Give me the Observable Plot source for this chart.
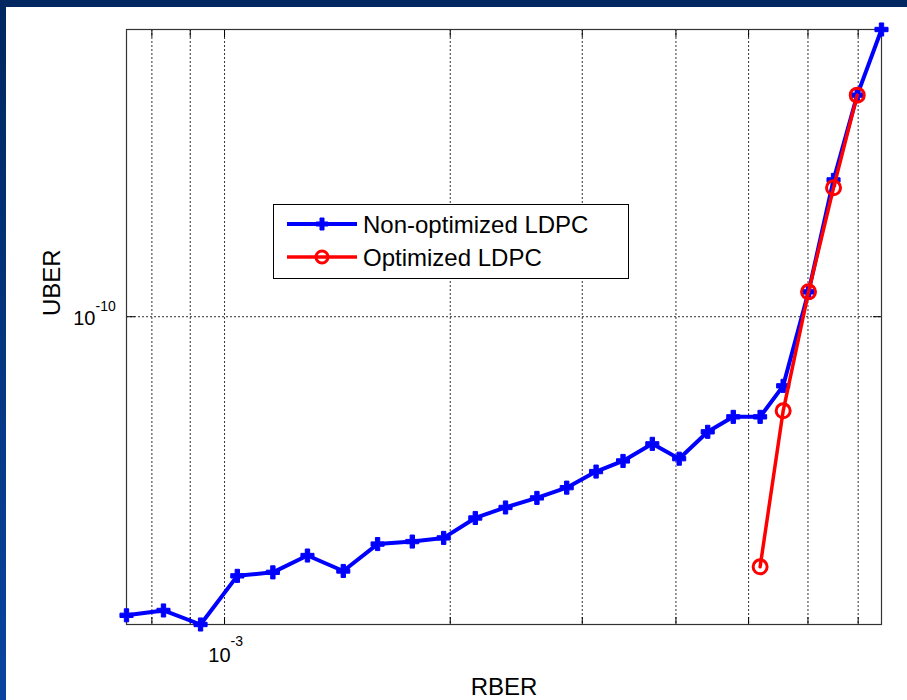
<!DOCTYPE html>
<html><head><meta charset="utf-8">
<script src="https://cdn.jsdelivr.net/npm/d3@7"></script>
<script src="https://cdn.jsdelivr.net/npm/@observablehq/plot@0.6"></script>
<style>
body{margin:0;background:#fff;}
#wrap{position:relative;width:907px;height:700px;overflow:hidden;background:#fff;font-family:"Liberation Sans",Arial,sans-serif;}
#chart{position:absolute;left:0;top:0;}
#topband{position:absolute;left:0;top:0;width:907px;height:7px;background:#00275f;}
#leftband{position:absolute;left:0;top:0;width:6px;height:700px;background:linear-gradient(#00275f,#0a44a0);}
#legend{position:absolute;left:0;top:0;}
</style></head><body>
<div id="wrap"><div id="chart"></div><div id="topband"></div><div id="leftband"></div><svg id="legend" width="907" height="700"></svg></div>
<script>
// ---- data ----
const rber = [7.40e-4, 8.29e-4, 9.29e-4, 1.04e-3, 1.16e-3, 1.29e-3, 1.44e-3, 1.60e-3, 1.78e-3, 1.96e-3, 2.16e-3, 2.37e-3, 2.61e-3, 2.86e-3, 3.13e-3, 3.40e-3, 3.72e-3, 4.04e-3, 4.41e-3, 4.77e-3, 5.18e-3, 5.56e-3, 6.01e-3, 6.49e-3, 6.98e-3, 7.52e-3];
const uberNonOpt = [3.18e-11, 3.24e-11, 3.07e-11, 3.70e-11, 3.75e-11, 4.00e-11, 3.77e-11, 4.18e-11, 4.22e-11, 4.28e-11, 4.62e-11, 4.81e-11, 4.99e-11, 5.19e-11, 5.52e-11, 5.75e-11, 6.14e-11, 5.80e-11, 6.43e-11, 6.81e-11, 6.81e-11, 7.67e-11, 1.10e-10, 1.69e-10, 2.34e-10, 3.01e-10];
const rberOpt = [5.18e-3, 5.56e-3, 6.01e-3, 6.49e-3, 6.98e-3];
const uberOpt = [3.83e-11, 6.97e-11, 1.10e-10, 1.64e-10, 2.34e-10];
const gridX = [8e-4, 9e-4, 1e-3, 2e-3, 3e-3, 4e-3, 5e-3, 6e-3, 7e-3];
const xTicks = [1e-3];
const xTickExp = ["-3"];
const yTicks = [1e-10];
const yTickExp = ["-10"];
const seriesNames = ["Non-optimized LDPC", "Optimized LDPC"];
const xLabel = "RBER";
const yLabel = "UBER";

const nonOpt = rber.map((x, i) => ({x, y: uberNonOpt[i]}));
const opt = rberOpt.map((x, i) => ({x, y: uberOpt[i]}));
const all = nonOpt.concat(opt);
const font = '"Liberation Sans", Arial, sans-serif';
const gridStyle = {stroke: "#333", strokeDasharray: "2,2", strokeWidth: 1};
const tickStyle = {tickFormat: () => "", label: null, stroke: "#000"};

const chart = Plot.plot({
  width: 907, height: 700,
  marginLeft: 126, marginRight: 26, marginTop: 29, marginBottom: 76,
  style: {fontFamily: font, background: "transparent", color: "#000"},
  x: {type: "log", domain: d3.extent(all, d => d.x), axis: null},
  y: {type: "log", domain: d3.extent(all, d => d.y), axis: null},
  marks: [
    Plot.ruleX(gridX, gridStyle),
    Plot.ruleY(yTicks, gridStyle),
    Plot.axisX(gridX, {anchor: "bottom", tickSize: -7, ...tickStyle}),
    Plot.axisX(gridX, {anchor: "top", tickSize: -7, ...tickStyle}),
    Plot.axisY(yTicks, {anchor: "left", tickSize: -9, ...tickStyle}),
    Plot.axisY(yTicks, {anchor: "right", tickSize: -9, ...tickStyle}),
    Plot.frame({stroke: "#333", strokeWidth: 1.2}),
    Plot.line(nonOpt, {x: "x", y: "y", stroke: "#0000ff", strokeWidth: 4}),
    Plot.dot(nonOpt, {x: "x", y: "y", symbol: "cross", r: 5.5, fill: "#0000ff", stroke: "#0000ff", strokeWidth: 1}),
    Plot.line(opt, {x: "x", y: "y", stroke: "#ff0000", strokeWidth: 3.5}),
    Plot.dot(opt, {x: "x", y: "y", r: 7, fill: "none", stroke: "#ff0000", strokeWidth: 3}),
    // x tick labels
    Plot.text(xTicks, {x: d => d, frameAnchor: "bottom", text: () => "10", textAnchor: "end", lineAnchor: "bottom", dx: 6, dy: 37, fontSize: 20, fill: "#000"}),
    Plot.text(xTicks, {x: d => d, frameAnchor: "bottom", text: (d, i) => xTickExp[i], textAnchor: "start", lineAnchor: "bottom", dx: 6, dy: 21, fontSize: 14, fill: "#000"}),
    // y tick labels
    Plot.text(yTicks, {y: d => d, frameAnchor: "left", text: () => "10", textAnchor: "end", lineAnchor: "bottom", dx: -31, dy: 8, fontSize: 20, fill: "#000"}),
    Plot.text(yTicks, {y: d => d, frameAnchor: "left", text: (d, i) => yTickExp[i], textAnchor: "start", lineAnchor: "bottom", dx: -31, dy: -6, fontSize: 14, fill: "#000"}),
    // axis labels
    Plot.text([xLabel], {frameAnchor: "bottom", text: d => d, lineAnchor: "bottom", dy: 70, fontSize: 24, fill: "#000"}),
    Plot.text([yLabel], {frameAnchor: "left", text: d => d, rotate: -90, lineAnchor: "bottom", dx: -67, dy: -11, fontSize: 24, fill: "#000"})
  ]
});
document.getElementById("chart").appendChild(chart);

// ---- legend ----
const lg = d3.select("#legend");
lg.append("rect").attr("x", 273.5).attr("y", 204.5).attr("width", 355).attr("height", 74)
  .attr("fill", "#fff").attr("stroke", "#000").attr("stroke-width", 1);
const rows = [
  {name: seriesNames[0], color: "#0000ff", y: 224, w: 4, sym: "cross"},
  {name: seriesNames[1], color: "#ff0000", y: 257, w: 3.5, sym: "circle"}
];
rows.forEach(r => {
  lg.append("line").attr("x1", 287).attr("x2", 357).attr("y1", r.y).attr("y2", r.y)
    .attr("stroke", r.color).attr("stroke-width", r.w);
  if (r.sym === "cross") {
    lg.append("path").attr("d", d3.symbol(d3.symbolCross, 80)()).attr("transform", `translate(322,${r.y})`)
      .attr("fill", r.color).attr("stroke", r.color);
  } else {
    lg.append("circle").attr("cx", 322).attr("cy", r.y).attr("r", 6).attr("fill", "none")
      .attr("stroke", r.color).attr("stroke-width", 3);
  }
  lg.append("text").attr("x", 363).attr("y", r.y + 9).attr("font-family", font).attr("font-size", 24)
    .attr("fill", "#000").text(r.name);
});
</script>
</body></html>
